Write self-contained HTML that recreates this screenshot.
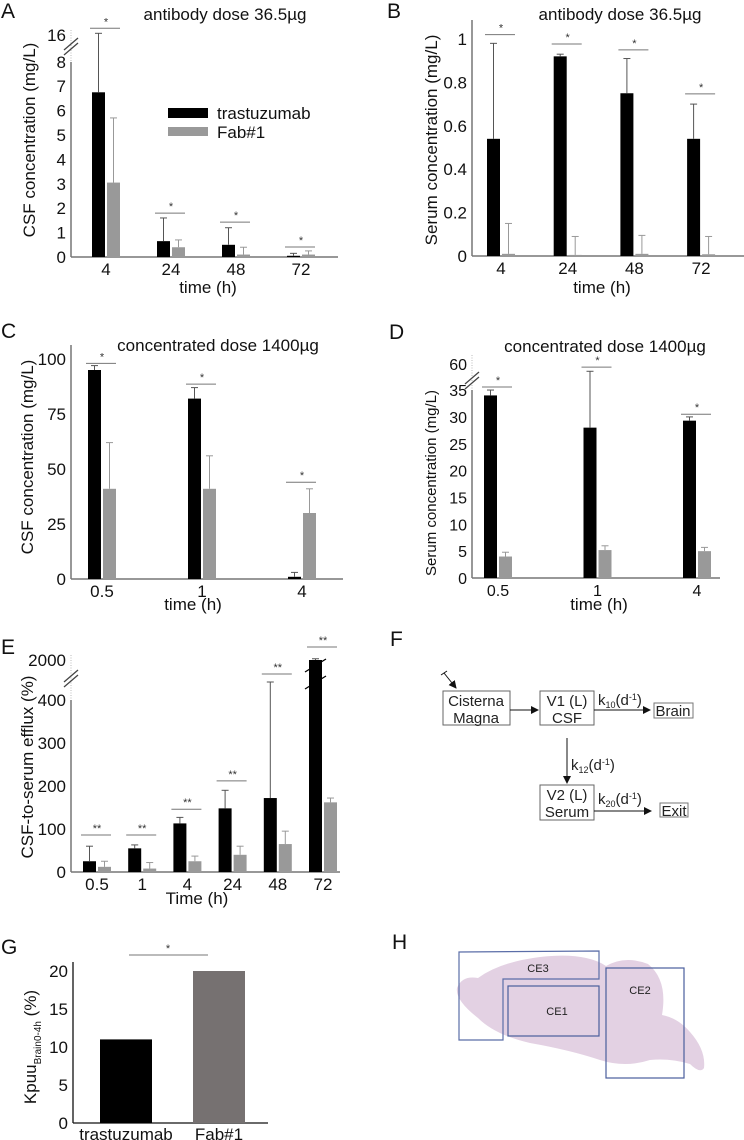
<!DOCTYPE html>
<html><head><meta charset="utf-8"><style>
html,body{margin:0;padding:0;background:#fff;}
svg{display:block;font-family:"Liberation Sans","DejaVu Sans",sans-serif;}
</style></head><body>
<svg id="fig" width="744" height="1140" viewBox="0 0 744 1140" xmlns="http://www.w3.org/2000/svg">
<g font-size="21" fill="#111">
<text x="1" y="18">A</text>
<text x="387" y="18">B</text>
<text x="1" y="338">C</text>
<text x="389" y="339">D</text>
<text x="1" y="654">E</text>
<text x="390" y="646">F</text>
<text x="1" y="954">G</text>
<text x="392" y="949">H</text>
</g>
<g font-size="17" fill="#111" text-anchor="middle">
<text x="225" y="20">antibody dose 36.5µg</text>
<text x="620" y="20">antibody dose 36.5µg</text>
<text x="218" y="351">concentrated dose 1400µg</text>
<text x="605" y="352">concentrated dose 1400µg</text>
<text x="208" y="293">time (h)</text>
<text x="602" y="293">time (h)</text>
<text x="193" y="610">time (h)</text>
<text x="599" y="610">time (h)</text>
<text x="197" y="904">Time (h)</text>
<text transform="translate(35,140) rotate(-90)">CSF concentration (mg/L)</text>
<text transform="translate(437,140) rotate(-90)">Serum concentration (mg/L)</text>
<text transform="translate(33,457) rotate(-90)">CSF concentration (mg/L)</text>
<text font-size="15" transform="translate(436,483) rotate(-90)">Serum concentration (mg/L)</text>
<text transform="translate(33,767) rotate(-90)">CSF-to-serum efflux (%)</text>
<text transform="translate(36,1047) rotate(-90)">Kpuu<tspan font-size="10" dy="5">Brain0-4h</tspan><tspan dy="-5"> (%)</tspan></text>
</g>
<g>
<rect x="168" y="108" width="40" height="10" fill="#000"/>
<rect x="168" y="127" width="40" height="9" fill="#999"/>
<text x="217" y="119" font-size="17" fill="#111">trastuzumab</text>
<text x="217" y="138" font-size="17" fill="#111">Fab#1</text>
</g>

<g font-size="15" fill="#222" stroke-width="1">
<defs><marker id="ah" markerWidth="8" markerHeight="8" refX="7" refY="4" orient="auto"><path d="M0,0 L8,4 L0,8 z" fill="#111"/></marker></defs>
<line x1="444" y1="673" x2="456" y2="688" stroke="#111" marker-end="url(#ah)"/>
<line x1="441" y1="675" x2="447" y2="671" stroke="#111"/>
<rect x="443" y="691" width="67" height="34" fill="#fff" stroke="#666"/>
<text x="476" y="706" text-anchor="middle">Cisterna</text><text x="476" y="723" text-anchor="middle">Magna</text>
<line x1="510" y1="710" x2="538" y2="710" stroke="#111" marker-end="url(#ah)"/>
<rect x="540" y="691" width="54" height="34" fill="#fff" stroke="#666"/>
<text x="567" y="706" text-anchor="middle">V1 (L)</text><text x="567" y="723" text-anchor="middle">CSF</text>
<line x1="594" y1="710" x2="650" y2="710" stroke="#111" marker-end="url(#ah)"/>
<text x="598" y="705">k<tspan font-size="9" dy="3">10</tspan><tspan dy="-3">(d</tspan><tspan font-size="9" dy="-5">-1</tspan><tspan dy="5">)</tspan></text>
<rect x="654" y="703" width="39" height="15" fill="#fff" stroke="#777"/>
<text x="673" y="716" text-anchor="middle">Brain</text>
<line x1="567" y1="738" x2="567" y2="783" stroke="#111" marker-end="url(#ah)"/>
<text x="571" y="770">k<tspan font-size="9" dy="3">12</tspan><tspan dy="-3">(d</tspan><tspan font-size="9" dy="-5">-1</tspan><tspan dy="5">)</tspan></text>
<rect x="540" y="785" width="54" height="35" fill="#fff" stroke="#666"/>
<text x="567" y="800" text-anchor="middle">V2 (L)</text><text x="567" y="817" text-anchor="middle">Serum</text>
<line x1="594" y1="811" x2="651" y2="811" stroke="#111" marker-end="url(#ah)"/>
<text x="598" y="804">k<tspan font-size="9" dy="3">20</tspan><tspan dy="-3">(d</tspan><tspan font-size="9" dy="-5">-1</tspan><tspan dy="5">)</tspan></text>
<rect x="660" y="803" width="28" height="14" fill="#fff" stroke="#777"/>
<text x="674" y="816" text-anchor="middle">Exit</text>
</g>

<g>
<path d="M457,988 Q462,975 478,978 Q500,962 540,957 Q585,952 606,966 Q625,955 648,964 Q668,980 662,1015 Q678,1018 690,1032 Q706,1050 704,1068 Q700,1074 690,1064 Q670,1058 650,1060 Q625,1068 600,1060 Q570,1050 530,1043 Q495,1035 478,1018 Q455,1000 457,988 Z" fill="#e3d1e3"/>
<path d="M459,952 L599,951 L599,979 L503,979 L503,1040 L459,1040 Z" fill="none" stroke="#5b6ea8" stroke-width="1.2"/>
<rect x="508" y="986" width="91" height="50" fill="none" stroke="#4a5e9c" stroke-width="1.2"/>
<rect x="606" y="968" width="78" height="110" fill="none" stroke="#4a5e9c" stroke-width="1.2"/>
<text x="538" y="972" font-size="11" text-anchor="middle" fill="#222">CE3</text>
<text x="557" y="1015" font-size="11" text-anchor="middle" fill="#222">CE1</text>
<text x="640" y="994" font-size="11" text-anchor="middle" fill="#222">CE2</text>
</g>
<g id="charts"></g>
</svg>
<script>
// Panel A
const catsA = ["4","24","48","72"];
const trasA = [6.75,0.65,0.5,0.05];
const trasErrA = [16.5,1.6,1.2,0.15];
const fabA = [3.05,0.4,0.1,0.1];
const fabErrA = [5.7,0.7,0.4,0.25];
const sigA = [18,1.8,1.43,0.41];
const ticksA = [0,1,2,3,4,5,6,7,8,16];
// Panel B
const catsB = ["4","24","48","72"];
const trasB = [0.54,0.92,0.75,0.54];
const trasErrB = [0.98,0.93,0.91,0.70];
const fabB = [0.01,0.005,0.01,0.008];
const fabErrB = [0.15,0.09,0.095,0.09];
const sigB = [1.02,0.977,0.95,0.747];
const ticksB = [0,0.2,0.4,0.6,0.8,1];
// Panel C
const catsC = ["0.5","1","4"];
const trasC = [95,82,1];
const trasErrC = [97,87,3];
const fabC = [41,41,30];
const fabErrC = [62,56,41];
const sigC = [98,88.6,44];
const ticksC = [0,25,50,75,100];
// Panel D
const catsD = ["0.5","1","4"];
const trasD = [34,28,29.3];
const trasErrD = [35,53,30];
const fabD = [4,5.2,5];
const fabErrD = [4.8,6,5.7];
const sigD = [37.9,57,30.5];
const ticksD = [0,5,10,15,20,25,30,35,60];
// Panel E
const catsE = ["0.5","1","4","24","48","72"];
const trasE = [25,55,113,148,172,2000];
const trasErrE = [60,63,127,190,1120,2050];
const fabE = [12,8,25,40,65,162];
const fabErrE = [25,22,37,60,95,172];
const sigE = [86,86,146,212,1440,2520];
const ticksE = [0,100,200,300,400,2000];
// Panel G
const catsG = ["trastuzumab","Fab#1"];
const valsG = [11,20];
const sigG = [22.1];
const ticksG = [0,5,10,15,20];

const NS = "http://www.w3.org/2000/svg";
const root = document.getElementById("charts");
function mk(tag, attrs, parent){
  const e = document.createElementNS(NS, tag);
  for (const k in attrs) e.setAttribute(k, attrs[k]);
  (parent||root).appendChild(e);
  return e;
}

function drawChart(o){
  const g = mk("g", {});
  
  
  const y = o.y;
  const ya = mk("line", {x1:o.ax, y1:o.axTop, x2:o.ax, y2:o.base, stroke:"#777", "stroke-width":1.5}, g);
  
  
  if (o.dotTop !== undefined){
    mk("line", {x1:o.ax, y1:o.dotTop, x2:o.ax, y2:o.axTop, stroke:"#bbb", "stroke-width":1, "stroke-dasharray":"1,1.5"}, g);
    const by = o.breakY;
    mk("line", {x1:o.ax-7, y1:by+6, x2:o.ax+7, y2:by-6, stroke:"#444", "stroke-width":1.3}, g);
    mk("line", {x1:o.ax-7, y1:by+11, x2:o.ax+7, y2:by-1, stroke:"#444", "stroke-width":1.3}, g);
  }
  const xa = mk("line", {x1:o.ax, y1:o.base, x2:o.axEnd, y2:o.base, stroke:"#777", "stroke-width":1.5}, g);
  
  
  o.ticks.forEach(t=>{
    const tx = mk("text", {x:o.ax-5, y:y(t)+6, "font-size":o.fs||17, "text-anchor":"end", fill:"#111"}, g);
    tx.textContent = t;
    
    
  });
  o.cats.forEach((c,i)=>{
    const x0 = o.start + i*o.step;
    const bw = o.bw || 13;
    const series = o.series;
    series.forEach((s,j)=>{
      const bx = x0 + j*(bw+2);
      const v = s.vals[i];
      const top = y(v);
      const r = mk("rect", {x:bx, y:top, width:bw, height:Math.max(o.base-top,0.5), fill:s.color}, g);
      
      
      if (s.err){
        const et = y(s.err[i]);
        const ec = s.key==="trastuzumab" ? "#555" : "#999";
        const el = mk("line", {x1:bx+bw/2, y1:top, x2:bx+bw/2, y2:et, stroke:ec, "stroke-width":1}, g);
        
        
        mk("line", {x1:bx+bw/2-3.5, y1:et, x2:bx+bw/2+3.5, y2:et, stroke:ec, "stroke-width":1}, g);
      }
    });
    const pairW = series.length*bw + (series.length-1)*2;
    const lbl = mk("text", {x:x0+pairW/2, y:o.base+18, "font-size":o.fs||17, "text-anchor":"middle", fill:"#111"}, g);
    lbl.textContent = c;
    
    
    if (o.sig){
      const sy = y(o.sig[i]);
      const sl = mk("line", {x1:x0-2, y1:sy, x2:x0+pairW, y2:sy, stroke:"#777", "stroke-width":1}, g);
      
      
      const st = mk("text", {x:x0+pairW/2, y:sy-3, "font-size":11, "text-anchor":"middle", fill:"#333"}, g);
      st.textContent = o.star;
      
      
    }
  });
  return g;
}

const yA = v => v<=8 ? 257 - v*24.4 : 62 - (v-8)*27/8;
drawChart({name:"chart-a", y:yA, ax:71, axTop:62, dotTop:30, breakY:44, base:257, axEnd:338, start:92, step:65,
  cats:catsA, ticks:ticksA, sig:sigA, star:"*", series:[{key:"trastuzumab",color:"#000",vals:trasA,err:trasErrA},{key:"fab1",color:"#999",vals:fabA,err:fabErrA}]});

const yB = v => 256 - v*217;
drawChart({name:"chart-b", y:yB, ax:472, axTop:20, base:256, axEnd:744, start:487, step:66.7,
  cats:catsB, ticks:ticksB, sig:sigB, star:"*", series:[{key:"trastuzumab",color:"#000",vals:trasB,err:trasErrB},{key:"fab1",color:"#999",vals:fabB,err:fabErrB}]});

const yC = v => 579 - v*2.2;
drawChart({name:"chart-c", y:yC, ax:71, axTop:345, base:579, axEnd:343, start:88, step:100,
  cats:catsC, ticks:ticksC, sig:sigC, star:"*", series:[{key:"trastuzumab",color:"#000",vals:trasC,err:trasErrC},{key:"fab1",color:"#999",vals:fabC,err:fabErrC}]});

const yD = v => v<=35 ? 578 - v*5.37 : 390 - (v-35)*26/25;
drawChart({name:"chart-d", y:yD, ax:472, axTop:390, dotTop:355, breakY:378, base:578, axEnd:720, start:484, step:99.5, fs:16,
  cats:catsD, ticks:ticksD, sig:sigD, star:"*", series:[{key:"trastuzumab",color:"#000",vals:trasD,err:trasErrD},{key:"fab1",color:"#999",vals:fabD,err:fabErrD}]});

const yE = v => v<=400 ? 872 - v*0.43 : 700 - (v-400)*40/1600;
const gE = drawChart({name:"chart-e", y:yE, ax:71, axTop:700, dotTop:655, breakY:676, base:872, axEnd:340, start:83, step:45.2,
  cats:catsE, ticks:ticksE, sig:sigE, star:"**", series:[{key:"trastuzumab",color:"#000",vals:trasE,err:trasErrE},{key:"fab1",color:"#999",vals:fabE,err:fabErrE}]});
const bxE = 83 + 5*45.2;
mk("line", {x1:bxE-4, y1:672, x2:bxE+17, y2:659, stroke:"#000", "stroke-width":1.3}, gE);
mk("line", {x1:bxE-4, y1:689, x2:bxE+17, y2:676, stroke:"#000", "stroke-width":1.3}, gE);

const yG = v => 1123 - v*7.6;
const gG = mk("g", {});


mk("line", {x1:73, y1:962, x2:73, y2:1123, stroke:"#111", "stroke-width":1.3}, gG);
mk("line", {x1:73, y1:1123, x2:268, y2:1123, stroke:"#111", "stroke-width":1.3}, gG);
ticksG.forEach(t=>{
  const tx = mk("text", {x:68, y:yG(t)+6, "font-size":17, "text-anchor":"end", fill:"#111"}, gG);
  tx.textContent = t;
  
  
});
const colorsG = ["#000","#767171"];
catsG.forEach((c,i)=>{
  const x0 = 100 + i*93;
  const r = mk("rect", {x:x0, y:yG(valsG[i]), width:52, height:1123-yG(valsG[i]), fill:colorsG[i]}, gG);
  
  
  const t = mk("text", {x:x0+26, y:1140, "font-size":17, "text-anchor":"middle", fill:"#111"}, gG);
  t.textContent = c;
  
  
});
const sgy = yG(sigG[0]);
const sgl = mk("line", {x1:129, y1:sgy, x2:208, y2:sgy, stroke:"#777", "stroke-width":1}, gG);


const sgt = mk("text", {x:168, y:sgy-3, "font-size":11, "text-anchor":"middle", fill:"#333"}, gG);
sgt.textContent = "*";


</script>
</body></html>
